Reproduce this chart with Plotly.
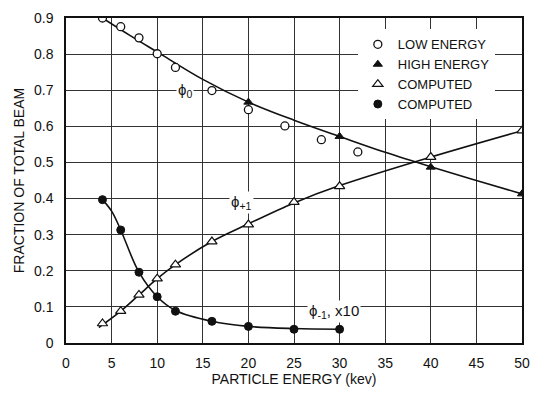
import plotly.graph_objects as go

# ---- data ----
low_x = [4, 6, 8, 10, 12, 16, 20, 24, 28, 32]
low_y = [0.900, 0.876, 0.845, 0.801, 0.763, 0.699, 0.646, 0.601, 0.563, 0.529]

high_x = [20, 30, 40, 50]
high_y = [0.667, 0.572, 0.487, 0.413]

plus_x = [4, 6, 8, 10, 12, 16, 20, 25, 30, 40, 50]
plus_y = [0.054, 0.088, 0.133, 0.178, 0.217, 0.281, 0.328, 0.390, 0.434, 0.515, 0.588]

minus_x = [4, 6, 8, 10, 12, 16, 20, 25, 30]
minus_y = [0.397, 0.313, 0.196, 0.128, 0.088, 0.060, 0.046, 0.038, 0.038]

# fitted curves
phi0_curve_x = [4, 7, 10, 15, 20, 25, 30, 35, 40, 45, 50]
phi0_curve_y = [0.900, 0.852, 0.806, 0.730, 0.667, 0.617, 0.572, 0.528, 0.488, 0.450, 0.413]

plus_curve_x = [3.6, 4, 6, 8, 10, 12, 16, 20, 25, 30, 40, 50]
plus_curve_y = [0.043, 0.050, 0.088, 0.133, 0.178, 0.217, 0.281, 0.330, 0.388, 0.436, 0.515, 0.588]

minus_curve_x = [4, 5, 6, 8, 10, 12, 16, 20, 25, 30]
minus_curve_y = [0.397, 0.365, 0.313, 0.196, 0.128, 0.090, 0.060, 0.046, 0.040, 0.038]

x_ticks = [0, 5, 10, 15, 20, 25, 30, 35, 40, 45, 50]
y_ticks = [0, 0.1, 0.2, 0.3, 0.4, 0.5, 0.6, 0.7, 0.8, 0.9]
y_ticktext = ["0", "0.1", "0.2", "0.3", "0.4", "0.5", "0.6", "0.7", "0.8", "0.9"]

FONT = "Liberation Sans, Arial, sans-serif"
INK = "#111111"

fig = go.Figure()

line_style = dict(color=INK, width=1.6, shape="spline", smoothing=1.0)
for cx, cy in [(phi0_curve_x, phi0_curve_y), (plus_curve_x, plus_curve_y), (minus_curve_x, minus_curve_y)]:
    fig.add_trace(go.Scatter(x=cx, y=cy, mode="lines", line=line_style,
                             showlegend=False, hoverinfo="skip"))

fig.add_trace(go.Scatter(x=low_x, y=low_y, mode="markers", name="LOW ENERGY",
                         marker=dict(symbol="circle", size=8, color="white",
                                     line=dict(color=INK, width=1.3))))
fig.add_trace(go.Scatter(x=high_x, y=high_y, mode="markers", name="HIGH ENERGY",
                         marker=dict(symbol="triangle-up", size=8, color=INK,
                                     line=dict(color=INK, width=1))))
fig.add_trace(go.Scatter(x=plus_x, y=plus_y, mode="markers", name="COMPUTED",
                         marker=dict(symbol="triangle-up", size=9, color="white",
                                     line=dict(color=INK, width=1.2))))
fig.add_trace(go.Scatter(x=minus_x, y=minus_y, mode="markers", name="COMPUTED ",
                         marker=dict(symbol="circle", size=8, color=INK,
                                     line=dict(color=INK, width=1))))

ann_font = dict(family=FONT, size=15, color=INK)
fig.add_annotation(x=13.0, y=0.700, text="ϕ<sub>0</sub>", showarrow=False,
                   font=ann_font, bgcolor="white", borderpad=1)
fig.add_annotation(x=19.2, y=0.388, text="ϕ<sub>+1</sub>", showarrow=False,
                   font=ann_font, bgcolor="white", borderpad=1)
fig.add_annotation(x=29.4, y=0.088, text="ϕ<sub>-1</sub>, x10", showarrow=False,
                   font=ann_font, bgcolor="white", borderpad=1)

axis_common = dict(showgrid=True, gridcolor="#333333", gridwidth=1,
                   showline=True, linecolor=INK, linewidth=1.5, mirror=True,
                   ticks="", zeroline=False,
                   tickfont=dict(family=FONT, size=14, color=INK))

fig.update_xaxes(range=[0, 50], tickvals=x_ticks, ticklabelstandoff=6,
                 title=dict(text="PARTICLE ENERGY (kev)", standoff=4,
                            font=dict(family=FONT, size=14, color=INK)),
                 **axis_common)
fig.update_yaxes(range=[0, 0.9], tickvals=y_ticks, ticktext=y_ticktext,
                 ticklabelstandoff=8,
                 title=dict(text="FRACTION OF TOTAL BEAM", standoff=6,
                            font=dict(family=FONT, size=14, color=INK)),
                 **axis_common)

fig.update_layout(
    width=539, height=393,
    margin=dict(l=66, r=9, t=18, b=45),
    paper_bgcolor="white", plot_bgcolor="white",
    font=dict(family=FONT, color=INK),
    legend=dict(x=0.64, y=0.965, xanchor="left", yanchor="top",
                bgcolor="white", borderwidth=0,
                font=dict(family=FONT, size=13, color=INK),
                tracegroupgap=0, itemwidth=30),
)

fig.write_html("out.html")
